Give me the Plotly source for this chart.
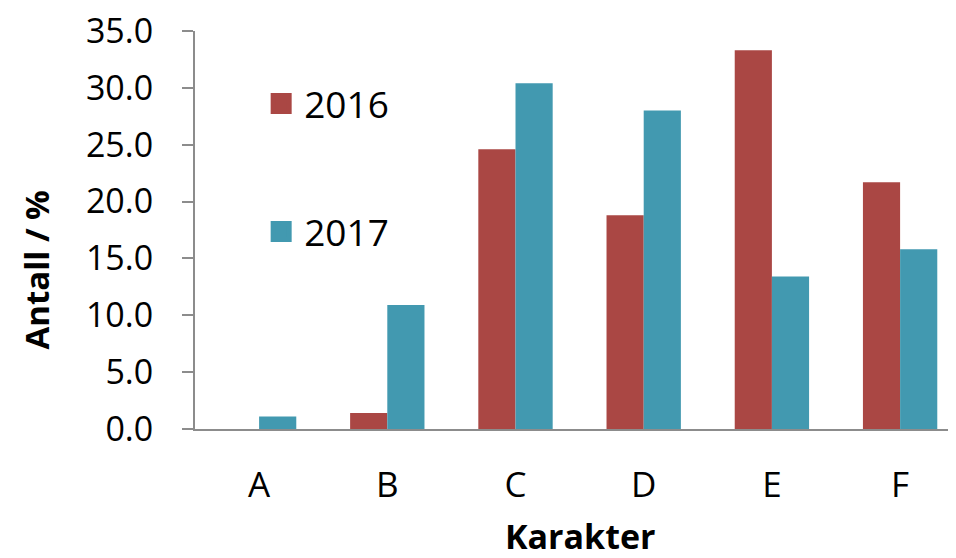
import plotly.graph_objects as go

categories = ["A", "B", "C", "D", "E", "F"]
values_2016 = [0.0, 1.4, 24.6, 18.8, 33.3, 21.7]
values_2017 = [1.1, 10.9, 30.4, 28.0, 13.4, 15.8]
series_names = ["2016", "2017"]
y_tick_vals = [0, 5, 10, 15, 20, 25, 30, 35]

RED = "#AA4744"
TEAL = "#4299B0"
FONT = "Open Sans"

fig = go.Figure()
fig.add_trace(go.Bar(x=categories, y=values_2016, name=series_names[0],
                     marker=dict(color=RED, line=dict(width=0)), showlegend=False))
fig.add_trace(go.Bar(x=categories, y=values_2017, name=series_names[1],
                     marker=dict(color=TEAL, line=dict(width=0)), showlegend=False))

# legend entries (large square swatches)
fig.add_trace(go.Scatter(x=[None], y=[None], mode="markers", name=series_names[0],
                         marker=dict(symbol="square", size=16, color=RED,
                                     line=dict(color=RED, width=5)),
                         legend="legend"))
fig.add_trace(go.Scatter(x=[None], y=[None], mode="markers", name=series_names[1],
                         marker=dict(symbol="square", size=16, color=TEAL,
                                     line=dict(color=TEAL, width=5)),
                         legend="legend2"))

legend_common = dict(xanchor="left", yanchor="middle", bgcolor="rgba(0,0,0,0)",
                     font=dict(family=FONT, size=37, color="black"),
                     itemwidth=36, itemsizing="trace")

fig.update_layout(
    width=948, height=550,
    margin=dict(l=187, r=0, t=23, b=129),
    paper_bgcolor="white", plot_bgcolor="white",
    barmode="group", bargap=0.42, bargroupgap=0,
    font=dict(family=FONT, color="black"),
    legend=dict(x=0.083, y=0.817, **legend_common),
    legend2=dict(x=0.083, y=0.495, **legend_common),
    xaxis=dict(
        range=[-0.5, 5.436], showgrid=False, zeroline=False, automargin=False,
        showline=True, linecolor="#8C8C8C", linewidth=2,
        ticks="", tickfont=dict(family=FONT, size=35, color="black"),
        ticklabelstandoff=24,
    ),
    yaxis=dict(
        range=[0, 35], tickvals=y_tick_vals, tickformat=".1f", automargin=False,
        showgrid=False, zeroline=False,
        showline=True, linecolor="#8C8C8C", linewidth=2,
        ticks="outside", ticklen=11, tickwidth=2, tickcolor="#8C8C8C",
        tickfont=dict(family=FONT, size=34, color="black"),
        ticklabelstandoff=22, ticklabeloverflow="allow",
    ),
    annotations=[
        dict(text="<b>Antall / %</b>", textangle=-90, xref="paper", yref="paper",
             x=-0.208, y=0.40, xanchor="center", yanchor="middle", showarrow=False,
             font=dict(family=FONT, size=33, color="black")),
        dict(text="<b>Karakter</b>", xref="paper", yref="paper",
             x=0.506, y=-0.27, xanchor="center", yanchor="middle", showarrow=False,
             font=dict(family=FONT, size=34, color="black")),
    ],
)

fig.write_html("out.html")
